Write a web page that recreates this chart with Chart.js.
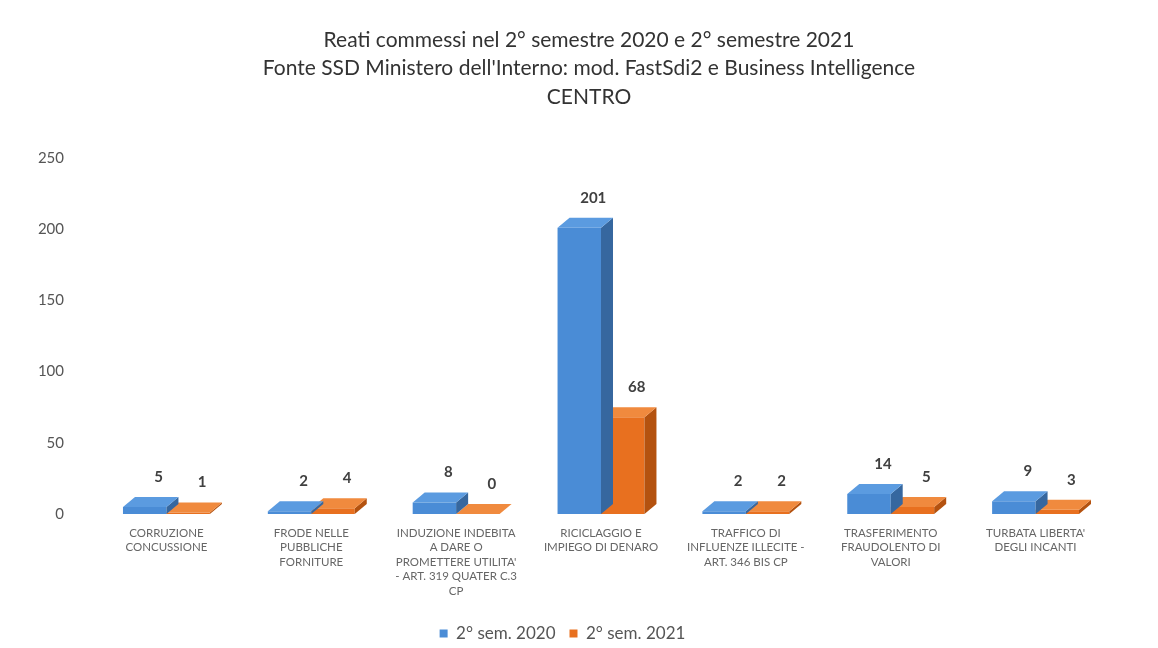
<!DOCTYPE html>
<html>
<head>
<meta charset="utf-8">
<script src="https://cdn.jsdelivr.net/npm/chart.js@4"></script>
<style>
  body { margin: 0; background: #fff; }
  #wrap { width: 1158px; height: 648px; }
</style>
</head>
<body>
<div id="wrap"><canvas id="c" width="1158" height="648"></canvas></div>
<script>
const categories = [
    ['CORRUZIONE', 'CONCUSSIONE'],
    ['FRODE NELLE', 'PUBBLICHE', 'FORNITURE'],
    ['INDUZIONE INDEBITA', 'A DARE O', "PROMETTERE UTILITA'", '- ART. 319 QUATER C.3', 'CP'],
    ['RICICLAGGIO E', 'IMPIEGO DI DENARO'],
    ['TRAFFICO DI', 'INFLUENZE ILLECITE -', 'ART. 346 BIS CP'],
    ['TRASFERIMENTO', 'FRAUDOLENTO DI', 'VALORI'],
    ["TURBATA LIBERTA'", 'DEGLI INCANTI']
]
const sem2020 = [5, 2, 8, 201, 2, 14, 9]
const sem2021 = [1, 4, 0, 68, 2, 5, 3]
const seriesNames = ['2° sem. 2020', '2° sem. 2021']
const titleLines = [
    'Reati commessi nel 2° semestre 2020 e 2° semestre 2021',
    "Fonte SSD Ministero dell'Interno: mod. FastSdi2 e Business Intelligence",
    'CENTRO'
]

const FONT = 'Lato, "Open Sans", sans-serif'
const DX = 12, DY = 10
const shades = [
    { top: '#5b9be0', side: '#36679f' },
    { top: '#f08a3e', side: '#b4520f' }
]

// fake 3d: top face and right side for each bar
const box3d = {
    id: 'box3d',
    afterLayout(chart) {
        // title sits a bit right of the plot centre in the original
        chart.titleBlock.left = 20
        chart.titleBlock.right = chart.width
    },
    afterDatasetDraw(chart, args) {
        const ctx = chart.ctx
        const sh = shades[args.index]
        args.meta.data.forEach(bar => {
            const w = bar.width
            const l = bar.x - w / 2, r = bar.x + w / 2
            const t = bar.y, b = bar.base
            ctx.save()
            ctx.fillStyle = sh.side
            ctx.beginPath()
            ctx.moveTo(r, t); ctx.lineTo(r + DX, t - DY)
            ctx.lineTo(r + DX, b - DY); ctx.lineTo(r, b)
            ctx.closePath(); ctx.fill()
            ctx.fillStyle = sh.top
            ctx.beginPath()
            ctx.moveTo(l, t); ctx.lineTo(l + DX, t - DY)
            ctx.lineTo(r + DX, t - DY); ctx.lineTo(r, t)
            ctx.closePath(); ctx.fill()
            ctx.restore()
        })
    },
    afterDatasetsDraw(chart) {
        const ctx = chart.ctx
        ctx.save()
        ctx.font = 'bold 15px ' + FONT
        ctx.fillStyle = '#404040'
        ctx.textAlign = 'center'
        ctx.textBaseline = 'middle'
        chart.data.datasets.forEach((ds, i) => {
            chart.getDatasetMeta(i).data.forEach((bar, j) => {
                ctx.fillText(ds.data[j], bar.x + DX + 2, bar.y - 30)
            })
        })
        ctx.restore()
    }
}

const config = {
    type: 'bar',
    data: {
        labels: categories,
        datasets: [
            { label: seriesNames[0], data: sem2020, backgroundColor: '#4a8cd6' },
            { label: seriesNames[1], data: sem2021, backgroundColor: '#e8701f' }
        ]
    },
    options: {
        responsive: false,
        animation: false,
        layout: { padding: { left: 17, right: 50, top: 26, bottom: -4 } },
        datasets: { bar: { categoryPercentage: 0.6, barPercentage: 1 } },
        plugins: {
            title: {
                display: true,
                text: titleLines,
                color: '#333',
                font: { family: FONT, size: 21, weight: 'normal', lineHeight: 1.35 },
                padding: { top: 0, bottom: 47 }
            },
            legend: {
                position: 'bottom',
                labels: {
                    boxWidth: 8, boxHeight: 8,
                    color: '#555',
                    font: { family: FONT, size: 17 },
                    padding: 14
                }
            },
            tooltip: { enabled: false }
        },
        scales: {
            x: {
                grid: { display: false, drawTicks: false },
                border: { display: false },
                afterFit: s => { s.height = 97 },
                ticks: {
                    maxRotation: 0, autoSkip: false,
                    color: '#666',
                    font: { family: FONT, size: 11.5, lineHeight: 1.26 },
                    padding: 12
                }
            },
            y: {
                min: 0, max: 250,
                grid: { display: false },
                border: { display: false },
                afterFit: s => { s.width = 77 },
                ticks: {
                    stepSize: 50,
                    color: '#555',
                    font: { family: FONT, size: 15 },
                    padding: 22
                }
            }
        }
    },
    plugins: [box3d]
}

new Chart(document.getElementById('c'), config)
</script>
</body>
</html>
